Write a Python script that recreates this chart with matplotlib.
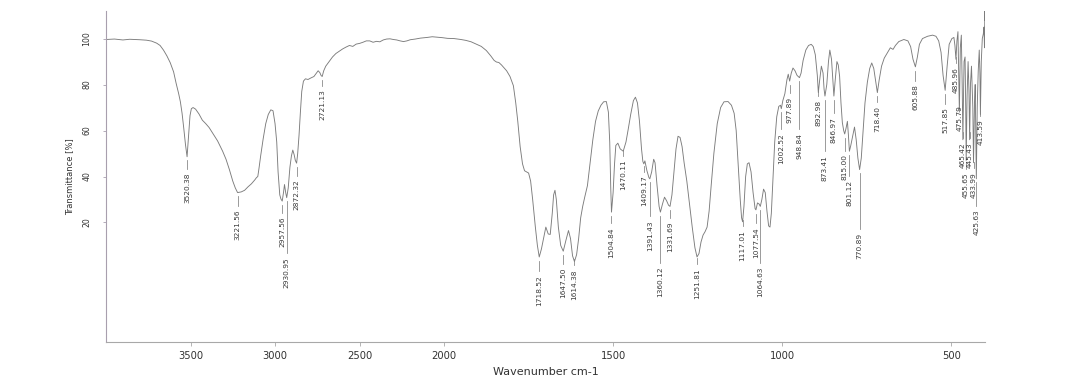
import numpy as np
import matplotlib
matplotlib.use("Agg")
import matplotlib.pyplot as plt
from matplotlib import font_manager

# ---- spectrum: wavenumber (cm-1) and transmittance (%) ----
wavenumber = [
    4000, 3950, 3900, 3860, 3800, 3760, 3730, 3700, 3680, 3660, 3640, 3620, 3600,
    3585, 3570, 3560, 3550, 3540, 3530, 3520.38, 3512, 3503, 3495, 3485, 3470,
    3450, 3430, 3410, 3390, 3370, 3340, 3310, 3290, 3270, 3250, 3235, 3221.56,
    3200, 3180, 3160, 3140, 3120, 3110, 3102, 3095, 3085, 3070, 3055, 3040, 3025,
    3012, 3000, 2990, 2982, 2972, 2965, 2957.56, 2950, 2944, 2937, 2930.95, 2922,
    2912, 2903, 2895, 2887, 2880, 2872.32, 2866, 2858, 2850, 2842, 2832, 2820,
    2805, 2790, 2770, 2755, 2745, 2735, 2728, 2721.13, 2712, 2700, 2680, 2660,
    2640, 2620, 2600, 2580, 2560, 2540, 2520, 2500, 2480, 2460, 2440, 2420, 2400,
    2380, 2360, 2340, 2320, 2300, 2280, 2260, 2240, 2220, 2200, 2170, 2140, 2100,
    2070, 2040, 2010, 1990, 1970, 1950, 1935, 1920, 1905, 1890, 1875, 1862, 1852,
    1845, 1838, 1830, 1815, 1805, 1795, 1788, 1782, 1775, 1768, 1762, 1756, 1750,
    1744, 1738, 1730, 1724, 1718.52, 1712, 1705, 1699, 1692, 1686, 1680, 1676,
    1672, 1668, 1662, 1655, 1647.50, 1640, 1632, 1626, 1620, 1614.38, 1608, 1602,
    1596, 1590, 1584, 1576, 1568, 1560, 1552, 1544, 1536, 1528, 1520, 1514, 1510,
    1507, 1504.84, 1500, 1496, 1492, 1486, 1479, 1470.11, 1462, 1456, 1448, 1440,
    1434, 1428, 1422, 1416, 1412, 1409.17, 1406, 1400, 1394, 1391.43, 1386, 1380,
    1376, 1370, 1364, 1360.12, 1354, 1348, 1342, 1336, 1331.69, 1326, 1320, 1314,
    1308, 1302, 1296, 1290, 1282, 1274, 1266, 1258, 1251.81, 1246, 1240, 1234,
    1228, 1222, 1216, 1210, 1202, 1192, 1182, 1172, 1160, 1150, 1142, 1136, 1130,
    1124, 1120, 1117.01, 1113, 1108, 1103, 1098, 1092, 1086, 1080, 1077.54, 1073,
    1068, 1064.63, 1060, 1055, 1050, 1045, 1040, 1036, 1032, 1027, 1022, 1016,
    1010, 1005, 1002.52, 998, 992, 986, 982, 977.89, 973, 968, 962, 956, 948.84,
    944, 938, 930, 922, 914, 908, 902, 896, 892.98, 889, 884, 879, 876, 873.41,
    868, 863, 859, 854, 850, 846.97, 843, 838, 834, 830, 826, 822, 818, 815.00,
    811, 807, 804, 801.12, 797, 791, 786, 781, 776, 770.89, 766, 761, 755, 748,
    741, 735, 729, 724, 718.40, 713, 706, 698, 690, 680, 672, 665, 655, 640, 628,
    620, 613, 605.88, 600, 594, 585, 570, 555, 545, 537, 530, 524, 517.85, 512,
    506, 498, 492, 489, 485.96, 483, 480, 478, 475.79, 473, 470, 467.5, 465.42,
    462, 459, 457, 455.65, 453, 450, 447.5, 445.43, 443, 440, 436, 433.99, 431,
    429, 427.5, 425.63, 423, 420, 417, 415, 413.59, 411, 408, 405, 403, 401.5,
    400.5, 400,
]
transmittance = [
    99.6, 99.8, 99.4, 99.7, 99.5, 99.3, 98.9, 98.0, 97.0, 95.0, 92.5, 89.5, 85.5,
    80.5, 76.0, 72.5, 67.5, 61.0, 54.0, 48.6, 57.5, 66.5, 69.5, 70.0, 69.3,
    67.2, 64.5, 63.0, 61.3, 59.0, 55.5, 51.0, 47.5, 43.0, 38.0, 35.0, 33.0,
    33.3, 34.0, 35.5, 36.8, 38.5, 39.5, 40.0, 43.5, 49.0, 56.5, 63.0, 67.0, 69.0,
    68.6, 63.0, 55.0, 42.0, 32.0, 30.2, 29.3, 33.0, 36.5, 33.0, 30.8, 35.0,
    44.0, 49.0, 51.5, 49.5, 47.0, 45.8, 50.0, 58.0, 68.0, 77.0, 81.5, 82.5,
    82.2, 82.8, 83.5, 85.0, 86.0, 85.2, 84.0, 83.5, 86.0, 88.0, 90.0, 92.0,
    93.5, 94.5, 95.5, 96.3, 97.0, 96.6, 97.6, 97.9, 98.4, 99.0, 99.0, 98.4, 98.8,
    98.6, 99.4, 99.8, 99.9, 99.6, 99.4, 99.0, 98.7, 99.0, 99.5, 99.8, 100.2, 100.5,
    100.8, 100.6, 100.4, 100.1, 100.0, 99.6, 99.2, 98.6, 97.6, 96.6, 94.8, 92.5, 90.5,
    89.8, 89.6, 88.5, 86.0, 83.5, 79.5, 72.0, 64.0, 53.0, 45.5, 42.5, 42.0, 41.5,
    38.0, 30.0, 18.0, 10.0, 5.0, 8.5, 13.5, 18.0, 15.0, 14.8, 24.0, 32.0,
    34.0, 30.0, 18.0, 10.0, 7.5, 12.0, 16.5, 13.0, 5.5, 3.0, 6.0, 13.0,
    22.0, 27.0, 31.0, 36.0, 46.0, 56.0, 64.0, 68.5, 71.0, 72.5, 72.6, 68.0, 55.0,
    35.0, 24.5, 33.0, 45.0, 53.5, 54.5, 52.0, 51.0, 55.0, 60.0, 67.0, 73.0,
    74.5, 72.0, 64.0, 52.0, 46.5, 45.5, 46.8, 42.5, 39.5, 39.0, 42.0, 47.5,
    46.0, 36.0, 27.0, 24.5, 28.0, 31.0, 29.5, 27.5, 27.0, 32.0, 42.0, 52.0,
    57.5, 57.0, 53.0, 46.0, 38.0, 28.0, 18.0, 9.0, 5.0, 6.5, 11.5, 14.5,
    16.0, 18.0, 25.0, 36.0, 50.0, 63.0, 70.0, 72.5, 72.6, 71.0, 67.5, 60.0, 45.0,
    30.0, 22.0, 20.3, 27.0, 40.0, 45.5, 46.0, 42.0, 33.0, 26.0, 25.5, 28.5,
    28.0, 27.0, 30.0, 34.5, 33.0, 25.0, 18.5, 18.0, 24.0, 40.0, 55.0, 66.0,
    70.5, 71.0, 69.5, 73.0, 76.0, 82.0, 84.5, 81.5, 85.0, 87.2, 86.0, 84.0, 83.0,
    85.0, 90.5, 95.0, 97.0, 97.5, 96.5, 93.0, 84.0, 76.5, 82.0, 88.0, 85.0, 78.0, 75.0,
    80.0, 90.0, 95.0, 91.0, 82.0, 75.0, 82.0, 90.0, 88.5, 83.5, 72.0, 63.5, 60.0, 58.5,
    61.0, 64.0, 58.0, 51.0, 53.5, 58.0, 61.5, 56.0, 48.0, 43.0, 48.0, 59.0, 72.0, 81.0,
    87.0, 89.4, 87.0, 82.0, 76.5, 82.0, 88.0, 91.5, 93.5, 96.0, 95.3, 97.0, 98.7, 99.6, 99.0,
    96.5, 91.0, 87.7, 92.0, 97.5, 100.0, 101.0, 101.5, 101.0, 99.0, 94.0, 84.0, 77.5, 88.0,
    97.5, 100.0, 100.5, 97.0, 91.0, 99.0, 103.0, 85.0, 68.0, 96.0, 101.5, 80.0, 56.0,
    90.0, 92.0, 70.0, 47.0, 75.0, 90.0, 78.0, 56.0, 80.0, 88.0, 70.0, 46.0, 72.0,
    80.0, 60.0, 39.0, 70.0, 86.0, 95.0, 85.0, 67.0, 90.0, 100.0, 102.0, 105.0, 96.0,
    112.0, 108.0,
]

# ---- annotated band positions (cm-1) ----
peak_labels = [
    3520.38, 3221.56, 2957.56, 2930.95, 2872.32, 2721.13, 1718.52, 1647.50,
    1614.38, 1504.84, 1470.11, 1409.17, 1391.43, 1360.12, 1331.69, 1251.81,
    1117.01, 1077.54, 1064.63, 1002.52, 977.89, 948.84, 892.98, 873.41, 846.97,
    815.00, 801.12, 770.89, 718.40, 605.88, 517.85, 485.96, 475.79, 465.42,
    455.65, 445.43, 433.99, 425.63, 413.59,
]

# where the top of each rotated label sits (transmittance units)
label_top = [
    41.6, 25.5, 22.5, 5.0, 38.6, 77.8, -2.9, 0.3,
    -0.3, 18.0, 47.3, 40.5, 21.0, 0.7, 20.3, 0.3,
    16.8, 18.0, 0.7, 59.0, 74.8, 59.0, 73.3, 49.4, 66.0,
    49.6, 38.6, 15.5, 70.7, 80.0, 70.0, 87.7, 71.0, 55.0,
    41.6, 55.0, 42.0, 25.5, 64.7,
]

x_ticks = [3500, 3000, 2500, 2000, 1500, 1000, 500]
y_ticks = [20, 40, 60, 80, 100]

wn = np.asarray(wavenumber, dtype=float)
tr = np.asarray(transmittance, dtype=float)


# region above 2000 cm-1 is drawn at half the scale of the fingerprint region
def fwd(w):
    w = np.asarray(w, dtype=float)
    return np.where(w > 2000, 2000 + (w - 2000) / 2.0, w)


def inv(u):
    u = np.asarray(u, dtype=float)
    return np.where(u > 2000, 2000 + (u - 2000) * 2.0, u)


installed = {f.name for f in font_manager.fontManager.ttflist}
if "Liberation Sans Narrow" in installed:
    narrow = ["Liberation Sans Narrow", "DejaVu Sans"]
    peak_fs, ytick_fs, ylab_fs = 6.6, 6.8, 7.4
else:
    narrow = ["DejaVu Sans"]
    peak_fs, ytick_fs, ylab_fs = 5.3, 5.6, 6.0

fig = plt.figure(figsize=(10.71, 3.81), dpi=100)
ax = fig.add_axes([106 / 1071, 1 - 342 / 381, (985 - 106) / 1071, (342 - 11) / 381])

ax.set_xscale("function", functions=(fwd, inv))
ax.plot(wn, tr, color="#7c7c7c", lw=0.65, solid_joinstyle="round")
ax.set_xlim(4000, 400)
ax.set_ylim(-32, 112)

line_col = "#808080"
text_col = "#3a3a3a"
for w, top in zip(peak_labels, label_top):
    dip = float(np.interp(w, wn[::-1], tr[::-1]))
    lo = top + 1.6
    hi = max(top + 4.2, dip - 1.6)
    ax.plot([w, w], [lo, hi], color=line_col, lw=0.55)
    ax.text(w, top, f"{w:.2f}", rotation=90, ha="center", va="top",
            fontsize=peak_fs, family=narrow, color=text_col)

for side in ("top", "right"):
    ax.spines[side].set_visible(False)
ax.spines["left"].set_color("#a89fae")
ax.spines["bottom"].set_color("#a8a8a8")
ax.spines["left"].set_linewidth(0.8)
ax.spines["bottom"].set_linewidth(0.8)

ax.set_xticks(x_ticks)
ax.set_xticklabels([str(t) for t in x_ticks])
ax.xaxis.set_minor_locator(matplotlib.ticker.NullLocator())
ax.tick_params(axis="x", length=3, width=0.6, color="#a8a8a8", pad=3.5,
               labelsize=7.2, labelcolor="#333333")
ax.set_yticks(y_ticks)
ax.set_yticklabels([str(t) for t in y_ticks], rotation=90, va="center",
                   family=narrow)
ax.tick_params(axis="y", length=2.5, width=0.6, color="#a89fae", pad=8,
               labelsize=ytick_fs, labelcolor="#333333")

ax.set_xlabel("Wavenumber cm-1", fontsize=8, color="#333333", labelpad=4)
ax.set_ylabel("Transmittance [%]", fontsize=ylab_fs, family=narrow,
              color="#333333", labelpad=6)

fig.savefig("out.png", dpi=100, facecolor="white")
